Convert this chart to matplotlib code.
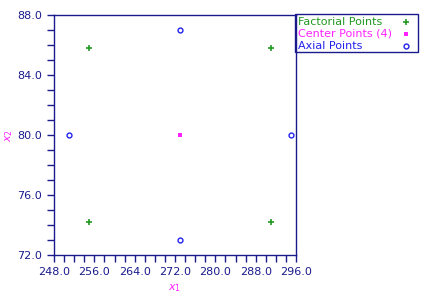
import numpy as np
import matplotlib
matplotlib.use("Agg")
import matplotlib.pyplot as plt
from matplotlib.ticker import MultipleLocator, FormatStrFormatter
from matplotlib.patches import Rectangle
from matplotlib.lines import Line2D

# design points
fact_x = [255, 291, 255, 291]
fact_y = [74.2, 74.2, 85.8, 85.8]
center_x = [273, 273, 273, 273]
center_y = [80, 80, 80, 80]
axial_x = [251, 295, 273, 273]
axial_y = [80, 80, 73, 87]

legend_labels = ['Factorial Points', 'Center Points (4)', 'Axial Points']

navy = '#1a1a8c'
green = '#229922'
magenta = '#ff22ff'
blue = '#2222ee'

plt.rcParams['font.family'] = 'DejaVu Sans'
W, H = 427, 295
fig = plt.figure(figsize=(W/100, H/100), dpi=100)
ax = fig.add_axes([54/W, 40/H, 242/W, 240/H])

styles = [dict(marker='+', color=green, ms=4, mew=1.2),
          dict(marker='s', color=magenta, ms=3.5, mew=0),
          dict(marker='o', color=blue, ms=3.5, mfc='none', mew=1)]

ax.plot(fact_x, fact_y, ls='none', **styles[0])
ax.plot(center_x, center_y, ls='none', **styles[1])
ax.plot(axial_x, axial_y, ls='none', **styles[2])

ax.set_xlim(248, 296)
ax.set_ylim(72, 88)
ax.xaxis.set_major_locator(MultipleLocator(8))
ax.xaxis.set_minor_locator(MultipleLocator(2))
ax.yaxis.set_major_locator(MultipleLocator(4))
ax.yaxis.set_minor_locator(MultipleLocator(1))
ax.xaxis.set_major_formatter(FormatStrFormatter('%.1f'))
ax.yaxis.set_major_formatter(FormatStrFormatter('%.1f'))

for s in ax.spines.values():
    s.set_color(navy)
    s.set_linewidth(1)
ax.tick_params(which='both', colors=navy, labelsize=8, direction='out', width=1, length=5)

ax.set_xlabel('$x_1$', color=magenta, fontsize=8, labelpad=4)
ax.set_ylabel('$x_2$', color=magenta, fontsize=8, labelpad=2)

# legend box outside, text left, marker right
fig.patches.append(Rectangle((295/W, 1 - 52/H), 123/W, 38/H, transform=fig.transFigure,
                             fill=False, edgecolor=navy, lw=1))
rows = [22, 34, 46]
for lab, st, r in zip(legend_labels, styles, rows):
    fig.text(298/W, 1 - r/H, lab, color=st['color'], fontsize=8, va='center', ha='left')
    fig.lines.append(Line2D([406/W], [1 - r/H], transform=fig.transFigure, ls='none', **st))

fig.savefig('out.png', dpi=100)
